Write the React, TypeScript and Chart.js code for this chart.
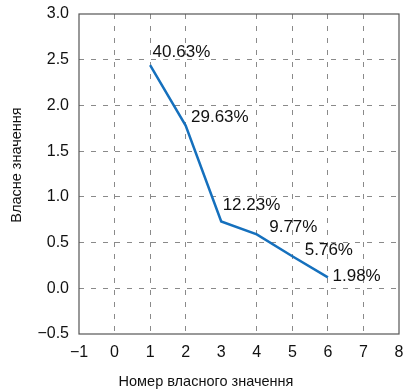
import React, { useEffect, useRef } from "react";
import { Chart, registerables } from "chart.js";

Chart.register(...registerables);

const componentNumbers = [1, 2, 3, 4, 5, 6];
const eigenvalues = [2.44, 1.78, 0.73, 0.59, 0.35, 0.12];
const percentLabels = ["40.63%", "29.63%", "12.23%", "9.77%", "5.76%", "1.98%"];
const labelAnchorX = [1.07, 2.15, 3.04, 4.35, 5.35, 6.13];
const labelAnchorY = [2.58, 1.87, 0.91, 0.67, 0.42, 0.13];
const xTitle = "Номер власного значення";
const yTitle = "Власне значення";
const xMin = -1;
const xMax = 8;
const yMin = -0.5;
const yMax = 3.0;

const FONT = "'Liberation Sans', Arial, Helvetica, sans-serif";

const fmtNum = (v: number, digits: number) => {
  const s = v.toFixed(digits);
  return v < 0 ? "\u2212" + s.slice(1) : s;
};

const decorPlugin = {
  id: "decor",
  afterDatasetsDraw(chart: any) {
    const { ctx, chartArea, scales } = chart;
    const xs = scales.x;
    const ys = scales.y;
    ctx.save();
    ctx.fillStyle = "#111";
    ctx.font = `17px ${FONT}`;
    ctx.textAlign = "left";
    ctx.textBaseline = "middle";
    percentLabels.forEach((t, i) => {
      ctx.fillText(t, xs.getPixelForValue(labelAnchorX[i]), ys.getPixelForValue(labelAnchorY[i]));
    });
    ctx.strokeStyle = "#555";
    ctx.lineWidth = 1.2;
    ctx.setLineDash([]);
    ctx.strokeRect(chartArea.left, chartArea.top, chartArea.right - chartArea.left, chartArea.bottom - chartArea.top);
    ctx.fillStyle = "#111";
    ctx.font = `14.5px ${FONT}`;
    ctx.textAlign = "center";
    ctx.textBaseline = "middle";
    ctx.fillText(xTitle, chart.width / 2 + 4, chart.height - 9);
    ctx.translate(17, chartArea.top + (chartArea.bottom - chartArea.top) / 2 - 9);
    ctx.rotate(-Math.PI / 2);
    ctx.fillText(yTitle, 0, 0);
    ctx.restore();
  },
};

export default function App() {
  const canvasRef = useRef<HTMLCanvasElement | null>(null);

  useEffect(() => {
    const canvas = canvasRef.current;
    if (!canvas) return;
    const gridColor = (ctx: any) => {
      const v = ctx.tick ? ctx.tick.value : NaN;
      return v === xMin || v === xMax || v === yMin || v === yMax ? "rgba(0,0,0,0)" : "#8a8a8a";
    };
    const chart = new Chart(canvas, {
      type: "line",
      data: {
        datasets: [
          {
            data: componentNumbers.map((x, i) => ({ x, y: eigenvalues[i] })),
            borderColor: "#1570bd",
            borderWidth: 2.5,
            pointRadius: 0,
            fill: false,
            tension: 0,
          },
        ],
      },
      plugins: [decorPlugin],
      options: {
        animation: false,
        responsive: false,
        maintainAspectRatio: false,
        layout: { padding: { top: 14, right: 5, left: 0, bottom: 0 } },
        plugins: { legend: { display: false }, tooltip: { enabled: false } },
        scales: {
          x: {
            type: "linear",
            min: xMin,
            max: xMax,
            afterFit: (s: any) => {
              s.height = 57;
              s.paddingLeft = 0;
              s.paddingRight = 0;
            },
            ticks: {
              stepSize: 1,
              padding: 9,
              color: "#111",
              font: { family: FONT, size: 16 },
              callback: (v: any) => fmtNum(Number(v), 0),
            },
            grid: { color: gridColor, lineWidth: 1, drawTicks: false },
            border: { display: false, dash: [5, 7] },
          },
          y: {
            type: "linear",
            min: yMin,
            max: yMax,
            afterFit: (s: any) => {
              s.width = 79;
              s.paddingTop = 0;
              s.paddingBottom = 0;
            },
            ticks: {
              stepSize: 0.5,
              padding: 10,
              color: "#111",
              font: { family: FONT, size: 16 },
              callback: (v: any) => fmtNum(Number(v), 1),
            },
            grid: { color: gridColor, lineWidth: 1, drawTicks: false },
            border: { display: false, dash: [5, 7] },
          },
        },
      },
    } as any);
    return () => chart.destroy();
  }, []);

  return (
    <div style={{ position: "fixed", left: 0, top: 0, width: 404, height: 391, background: "#fff" }}>
      <canvas ref={canvasRef} width={404} height={391} style={{ width: 404, height: 391, display: "block" }} />
    </div>
  );
}
